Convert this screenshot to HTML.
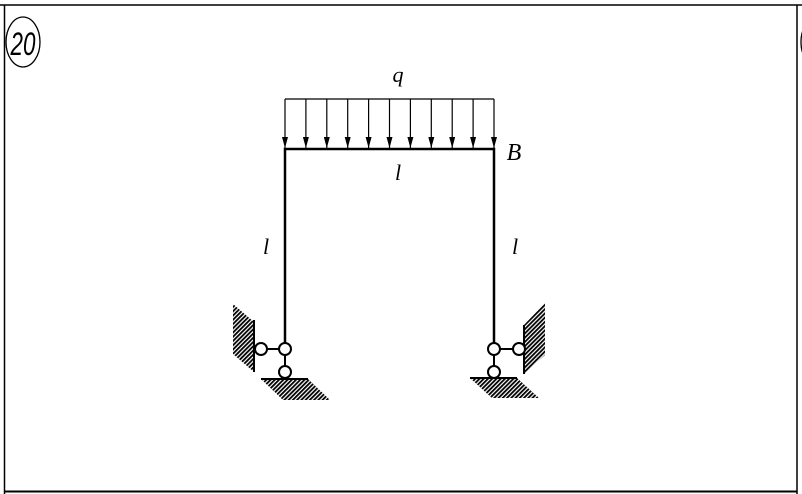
<!DOCTYPE html>
<html><head><meta charset="utf-8"><style>
html,body{margin:0;padding:0;background:#fff;width:802px;height:494px;overflow:hidden}
svg{display:block}
text{font-family:"Liberation Serif",serif;font-style:italic;fill:#000}
</style></head><body>
<svg width="802" height="494" viewBox="0 0 802 494" xmlns="http://www.w3.org/2000/svg">
<defs>
<pattern id="h1" width="3" height="3" patternUnits="userSpaceOnUse" patternTransform="rotate(45)">
<rect x="0" y="0" width="1.8" height="3" fill="#000"/></pattern>
<marker id="ar" markerWidth="11" markerHeight="6" refX="11" refY="3" orient="auto" markerUnits="userSpaceOnUse">
<path d="M0,0 L11,3 L0,6 Z" fill="#000"/></marker>
</defs>
<rect width="802" height="494" fill="#fff"/>
<line x1="0" y1="5" x2="802" y2="5" stroke="#000" stroke-width="1.5"/>
<line x1="4.5" y1="5" x2="4.5" y2="494" stroke="#000" stroke-width="1.5"/>
<line x1="797" y1="5" x2="797" y2="494" stroke="#000" stroke-width="1.5"/>
<line x1="4" y1="491.5" x2="797" y2="491.5" stroke="#000" stroke-width="2"/>
<ellipse cx="23" cy="42" rx="17" ry="25" fill="none" stroke="#000" stroke-width="1.3"/>
<text transform="translate(23,55) scale(0.7,1)" font-size="32" text-anchor="middle" style="font-family:'Liberation Sans',sans-serif">20</text>
<ellipse cx="818" cy="42" rx="17" ry="25" fill="none" stroke="#000" stroke-width="1.3"/>
<line x1="285" y1="99" x2="494" y2="99" stroke="#000" stroke-width="1.2"/>
<g stroke="#000" stroke-width="1.2" marker-end="url(#ar)">
<line x1="285" y1="99" x2="285" y2="148"/><line x1="305.9" y1="99" x2="305.9" y2="148"/>
<line x1="326.8" y1="99" x2="326.8" y2="148"/><line x1="347.7" y1="99" x2="347.7" y2="148"/>
<line x1="368.6" y1="99" x2="368.6" y2="148"/><line x1="389.5" y1="99" x2="389.5" y2="148"/>
<line x1="410.4" y1="99" x2="410.4" y2="148"/><line x1="431.3" y1="99" x2="431.3" y2="148"/>
<line x1="452.2" y1="99" x2="452.2" y2="148"/><line x1="473.1" y1="99" x2="473.1" y2="148"/>
<line x1="494" y1="99" x2="494" y2="148"/>
</g>
<path d="M285,343 L285,149 L494,149 L494,343" fill="none" stroke="#000" stroke-width="2.5"/>
<polygon points="233,304 254,322 254,372 233,354" fill="url(#h1)"/>
<line x1="254" y1="320" x2="254" y2="372" stroke="#000" stroke-width="2"/>
<polygon points="261,379 308,379 330,400 283,400" fill="url(#h1)"/>
<line x1="261" y1="379" x2="308" y2="379" stroke="#000" stroke-width="2"/>
<line x1="267" y1="349" x2="279" y2="349" stroke="#000" stroke-width="2"/>
<line x1="285" y1="355" x2="285" y2="366" stroke="#000" stroke-width="2"/>
<g fill="#fff" stroke="#000" stroke-width="2">
<circle cx="261" cy="349" r="6"/><circle cx="285" cy="349" r="6"/><circle cx="285" cy="372" r="6"/>
</g>
<polygon points="524,325 545,303 545,355 524,374" fill="url(#h1)"/>
<line x1="524" y1="325" x2="524" y2="374" stroke="#000" stroke-width="2"/>
<polygon points="470,378 517,378 539,398 492,398" fill="url(#h1)"/>
<line x1="470" y1="378" x2="517" y2="378" stroke="#000" stroke-width="2"/>
<line x1="500" y1="349" x2="513" y2="349" stroke="#000" stroke-width="2"/>
<line x1="494" y1="355" x2="494" y2="366" stroke="#000" stroke-width="2"/>
<g fill="#fff" stroke="#000" stroke-width="2">
<circle cx="519" cy="349" r="6"/><circle cx="494" cy="349" r="6"/><circle cx="494" cy="372" r="6"/>
</g>
<text x="398" y="82" font-size="22" text-anchor="middle">q</text>
<text x="514" y="160" font-size="24" text-anchor="middle">B</text>
<text x="398" y="180" font-size="22" text-anchor="middle">l</text>
<text x="266" y="254" font-size="22" text-anchor="middle">l</text>
<text x="515" y="254" font-size="22" text-anchor="middle">l</text>
</svg>
</body></html>
